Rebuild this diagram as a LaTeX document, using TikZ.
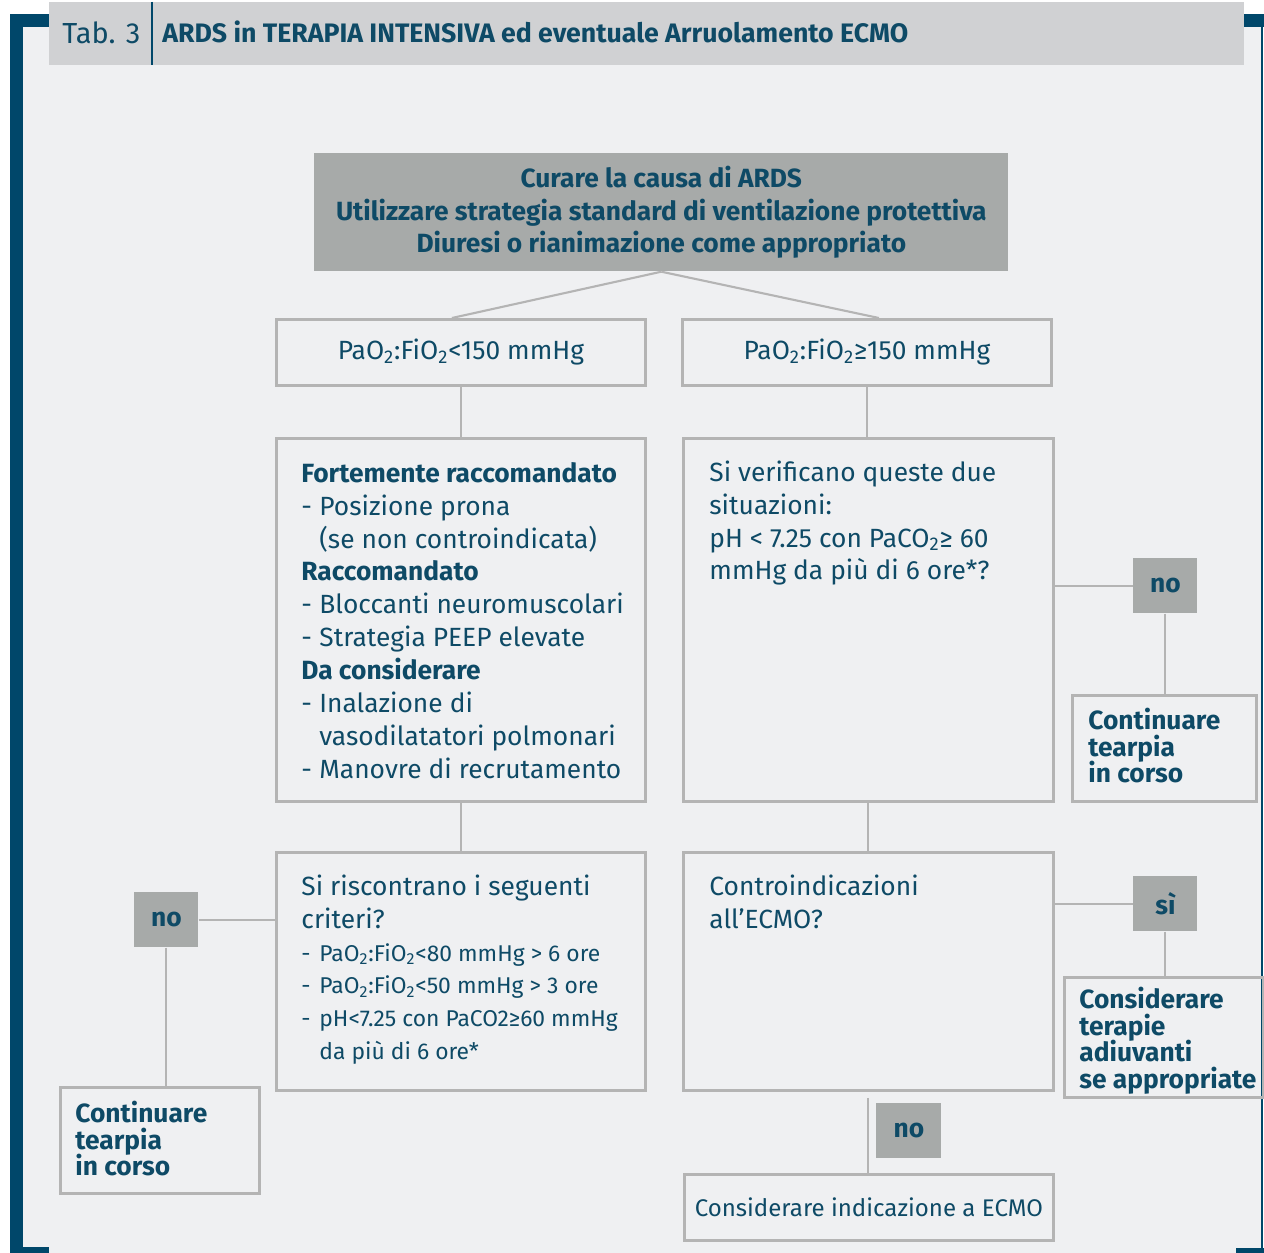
\documentclass[tikz,border=0pt]{standalone}
\usepackage{fontspec}
\setmainfont{Fira Sans}
\usetikzlibrary{positioning}

\definecolor{blunotte}{HTML}{0E4A66}
\definecolor{cornice}{HTML}{00476A}
\definecolor{grigioscuro}{HTML}{A7AAA9}
\definecolor{grigiotitolo}{HTML}{D0D1D3}
\definecolor{sfondo}{HTML}{EFF0F2}
\definecolor{bordo}{HTML}{B4B4B4}

\newlength\pxu
\setlength\pxu{0.02cm}
% blocco di testo allineato in alto: larghezza, altezza, margine sopra, righe
\newcommand{\blocco}[4]{\begin{minipage}[t][#2\pxu][t]{#1\pxu}\vspace*{#3\pxu}\par\noindent\begin{tabular}{@{}l@{}}#4\end{tabular}\end{minipage}}
\newcommand{\ossdue}{O\textsubscript{2}}
\newcommand{\trat}{\makebox[18\pxu][l]{-}}
\newcommand{\rientro}{\hspace*{18\pxu}}
\newcommand{\elenco}{\fontsize{13}{18.7}\selectfont}

\begin{document}
\begin{tikzpicture}[x=0.02cm,y=-0.02cm,
  every node/.style={text=blunotte,font=\fontsize{15}{18.7}\selectfont},
  box/.style={draw=bordo,line width=1.6pt,anchor=north west,inner ysep=0pt},
  grigio/.style={fill=grigioscuro,anchor=north west,inner sep=0pt,font=\fontsize{15}{18.7}\selectfont\bfseries},
  esito/.style={box,font=\fontsize{15}{15.3}\selectfont\bfseries},
  filo/.style={draw=bordo,line width=1.2pt}]
  \useasboundingbox (0,0) rectangle (1264,1253);
  \fill[white] (0,0) rectangle (1264,1253);
  \fill[sfondo] (23,27) rectangle (1262,1253);
  % cornice
  \fill[cornice] (10,14) rectangle (23,1253);
  \fill[cornice] (10,14) rectangle (49,27);
  \fill[cornice] (10,1247) rectangle (49,1253);
  \fill[cornice] (1236,14) rectangle (1264,27);
  \fill[cornice] (1261,27) rectangle (1263,1248);
  \fill[cornice] (1236,1248) rectangle (1264,1253);
  % intestazione
  \fill[grigiotitolo] (49,2) rectangle (1244,65);
  \draw[cornice,line width=1.7pt] (152,2) -- (152,65);
  \node[anchor=west,inner sep=0pt,font=\fontsize{16.5}{18}\selectfont] (tab) at (62,33) {Tab. 3};
  \node[anchor=west,inner sep=0pt,font=\fontsize{15.2}{18}\selectfont\bfseries] (titolo) at (162,32) {ARDS in TERAPIA INTENSIVA ed eventuale Arruolamento ECMO};

  \node[grigio,minimum width=694\pxu,minimum height=118\pxu,align=center] (cura) at (314,153)
    {Curare la causa di ARDS\\Utilizzare strategia standard di ventilazione protettiva\\Diuresi o rianimazione come appropriato};
  \node[box,inner xsep=0pt,minimum width=369\pxu,minimum height=66\pxu] (rapbasso) at (275,318) {Pa\ossdue:Fi\ossdue<150 mmHg};
  \node[box,inner xsep=0pt,minimum width=369\pxu,minimum height=66\pxu] (rapalto) at (681,318) {Pa\ossdue:Fi\ossdue≥150 mmHg};

  % ramo sinistro
  \node[box,inner xsep=25\pxu] (misure) at (275,437) {\blocco{319}{363}{21}{%
    \textbf{Fortemente raccomandato}\\
    \trat Posizione prona\\
    \rientro(se non controindicata)\\
    \textbf{Raccomandato}\\
    \trat Bloccanti neuromuscolari\\
    \trat Strategia PEEP elevate\\
    \textbf{Da considerare}\\
    \trat Inalazione di\\
    \rientro vasodilatatori polmonari\\
    \trat Manovre di recrutamento}};
  \node[box,inner xsep=25\pxu] (criteri) at (275,851) {\blocco{319}{238}{20}{%
    Si riscontrano i seguenti\\
    criteri?\\
    \elenco\trat Pa\ossdue:Fi\ossdue<80 mmHg > 6 ore\\
    \elenco\trat Pa\ossdue:Fi\ossdue<50 mmHg > 3 ore\\
    \elenco\trat pH<7.25 con PaCO2≥60 mmHg\\
    \elenco\rientro da più di 6 ore*}};
  \node[grigio,minimum width=64\pxu,minimum height=55\pxu] (noB) at (134,892) {no};
  \node[esito,inner xsep=15\pxu] (continuaB) at (59,1086) {\blocco{169}{106}{16}{%
    \smash{Continuare}\\\smash{tearpia}\\\smash{in corso}}};

  % ramo destro
  \node[box,inner xsep=26\pxu] (verifica) at (682,437) {\blocco{318}{363}{20}{%
    Si verificano queste due\\
    situazioni:\\
    pH < 7.25 con PaC\ossdue≥ 60\\
    mmHg da più di 6 ore*?}};
  \node[grigio,minimum width=64\pxu,minimum height=55\pxu] (noA) at (1133,558) {no};
  \node[esito,inner xsep=16\pxu] (continuaA) at (1071,694) {\blocco{152}{106}{15}{%
    \smash{Continuare}\\\smash{tearpia}\\\smash{in corso}}};
  \node[box,inner xsep=26\pxu] (controind) at (682,851) {\blocco{318}{238}{20}{%
    Controindicazioni\\
    all’ECMO?}};
  \node[grigio,minimum width=64\pxu,minimum height=55\pxu] (siC) at (1133,876) {sì};
  \node[esito,inner xsep=15\pxu] (considera) at (1063,976) {\blocco{169}{120}{12}{%
    \smash{Considerare}\\\smash{terapie}\\\smash{adiuvanti}\\\smash{se appropriate}}};
  \node[grigio,minimum width=65\pxu,minimum height=55\pxu] (noD) at (876,1103) {no};
  \node[box,inner xsep=0pt,minimum width=369\pxu,minimum height=66\pxu,font=\fontsize{13.7}{16}\selectfont] (indicazione) at (683,1173) {Considerare indicazione a ECMO};

  % collegamenti
  \draw[filo] (cura.south) -- ([xshift=-9\pxu]rapbasso.north);
  \draw[filo] (cura.south) -- ([xshift=12\pxu]rapalto.north);
  \draw[filo] (rapbasso.south) -- (misure.north);
  \draw[filo] (rapalto.south) -- (rapalto.south |- verifica.north);
  \draw[filo] (misure.south) -- (criteri.north);
  \draw[filo] (verifica.south) -- (verifica.south |- controind.north);
  \draw[filo] (noA.west -| verifica.east) -- (noA.west);
  \draw[filo] (noA.south) -- (noA.south |- continuaA.north);
  \draw[filo] (noB.east) -- (noB.east -| criteri.west);
  \draw[filo] (noB.south) -- (noB.south |- continuaB.north);
  \draw[filo] (siC.west -| controind.east) -- (siC.west);
  \draw[filo] (siC.south) -- (siC.south |- considera.north);
  \draw[filo] ([yshift=-6\pxu]controind.south) -- (controind.south |- indicazione.north);
\end{tikzpicture}
\end{document}
